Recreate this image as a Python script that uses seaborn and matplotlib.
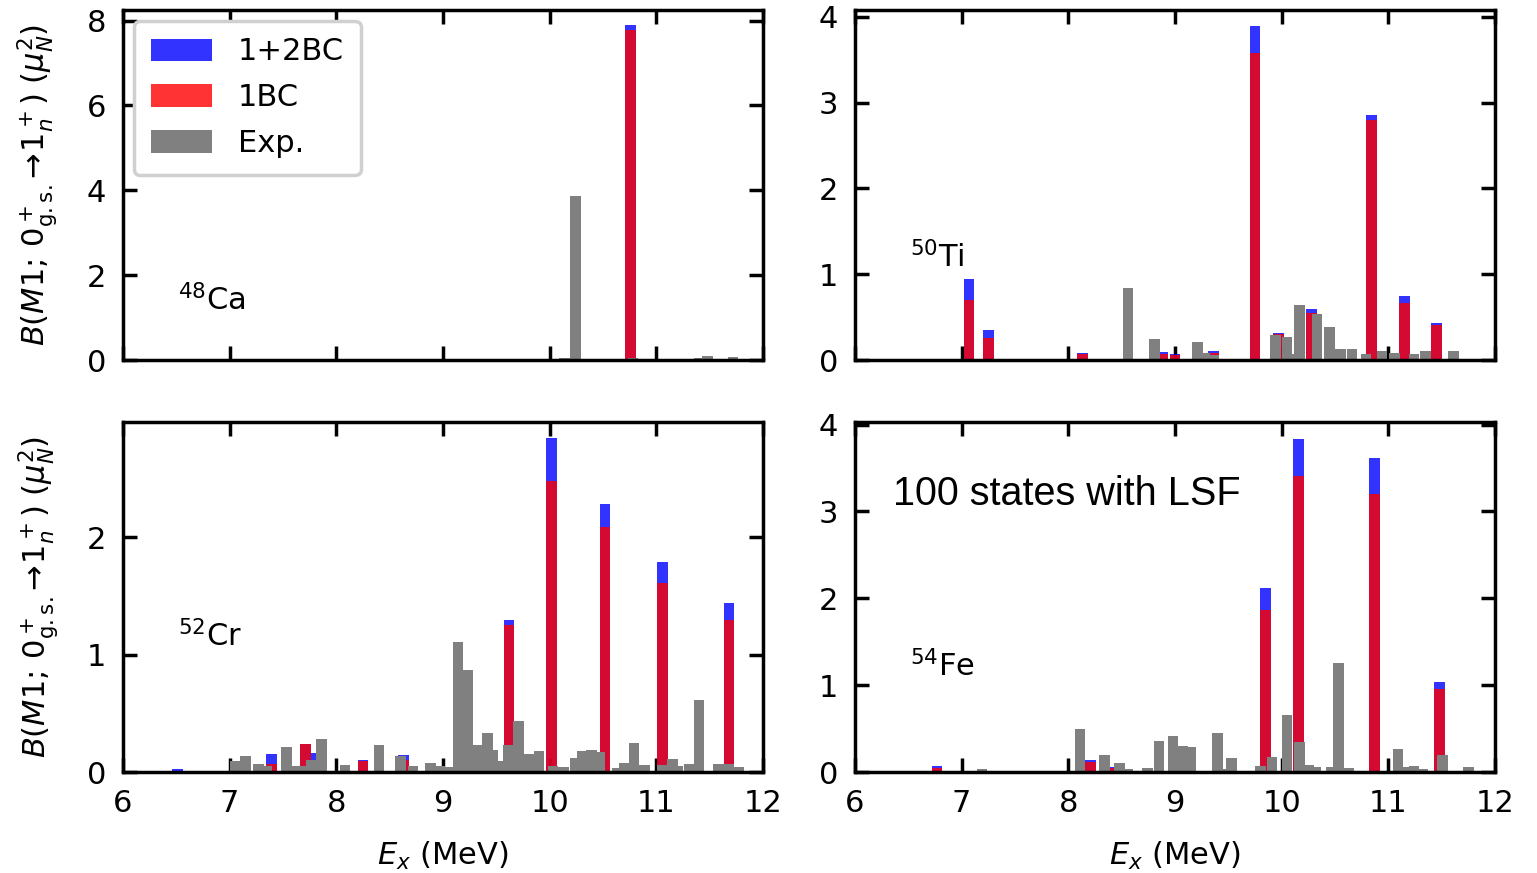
import numpy as np
import matplotlib
matplotlib.use("Agg")
import matplotlib.pyplot as plt
import seaborn as sns
from matplotlib.patches import Patch

# ---------------- data ----------------
# 48Ca
ca_th_E = [10.76]
ca_1bc = [7.79]
ca_12bc = [7.90]
ca_exp_E = [9.40, 9.88, 9.96, 10.14, 10.24, 10.34, 10.78, 11.40, 11.48, 11.72]
ca_exp_B = [0.015, 0.02, 0.03, 0.05, 3.87, 0.03, 0.05, 0.05, 0.10, 0.06]

# 50Ti
ti_th_E = [7.07, 7.25, 8.13, 8.88, 9.00, 9.36, 9.75, 9.97, 10.28, 10.84, 11.15, 11.45]
ti_1bc = [0.70, 0.26, 0.066, 0.07, 0.06, 0.08, 3.58, 0.30, 0.55, 2.80, 0.66, 0.41]
ti_12bc = [0.95, 0.35, 0.085, 0.09, 0.074, 0.10, 3.89, 0.32, 0.59, 2.86, 0.75, 0.435]
ti_exp_E = [8.56, 8.81, 9.21, 9.28, 9.36, 9.94, 10.05, 10.12, 10.17, 10.33, 10.45,
            10.55, 10.66, 10.79, 10.94, 11.06, 11.24, 11.35, 11.61]
ti_exp_B = [0.84, 0.25, 0.21, 0.085, 0.06, 0.29, 0.27, 0.07, 0.64, 0.54, 0.39,
            0.13, 0.13, 0.07, 0.10, 0.08, 0.07, 0.11, 0.10]

# 52Cr
cr_th_E = [6.51, 7.39, 7.71, 7.80, 8.25, 8.63, 9.62, 10.02, 10.52, 11.06, 11.68]
cr_1bc = [0.0, 0.065, 0.235, 0.05, 0.09, 0.10, 1.255, 2.48, 2.09, 1.61, 1.29]
cr_12bc = [0.025, 0.155, 0.24, 0.165, 0.10, 0.145, 1.295, 2.845, 2.28, 1.785, 1.44]
cr_exp_E = [7.05, 7.15, 7.27, 7.35, 7.53, 7.63, 7.69, 7.77, 7.86, 8.08, 8.40, 8.60,
            8.72, 8.88, 8.97, 9.06, 9.14, 9.23, 9.32, 9.42, 9.47, 9.52, 9.61, 9.71,
            9.80, 9.90, 10.03, 10.13, 10.24, 10.31, 10.39, 10.47, 10.63, 10.70, 10.79,
            10.89, 11.06, 11.15, 11.20, 11.31, 11.40, 11.58, 11.68, 11.77]
cr_exp_B = [0.09, 0.14, 0.07, 0.05, 0.21, 0.05, 0.05, 0.10, 0.28, 0.06, 0.23, 0.14,
            0.05, 0.08, 0.05, 0.04, 1.11, 0.87, 0.23, 0.33, 0.19, 0.09, 0.23, 0.43,
            0.15, 0.18, 0.05, 0.045, 0.12, 0.18, 0.19, 0.17, 0.03, 0.08, 0.25,
            0.06, 0.06, 0.11, 0.05, 0.07, 0.61, 0.07, 0.07, 0.045]

# 54Fe
fe_th_E = [6.77, 8.21, 8.41, 9.85, 10.16, 10.87, 11.48]
fe_1bc = [0.046, 0.11, 0.05, 1.86, 3.41, 3.20, 0.95]
fe_12bc = [0.065, 0.14, 0.06, 2.12, 3.84, 3.61, 1.04]
fe_exp_E = [6.05, 7.19, 8.11, 8.34, 8.48, 8.56, 8.74, 8.85, 8.98, 9.07, 9.15, 9.40,
            9.47, 9.53, 9.80, 9.91, 10.05, 10.17, 10.25, 10.32, 10.47, 10.535, 10.63,
            11.09, 11.18, 11.24, 11.32, 11.51, 11.75]
fe_exp_B = [0.01, 0.04, 0.49, 0.195, 0.10, 0.04, 0.05, 0.36, 0.42, 0.30, 0.29, 0.445,
            0.04, 0.157, 0.07, 0.17, 0.655, 0.35, 0.08, 0.06, 0.06, 1.25, 0.05,
            0.265, 0.06, 0.07, 0.03, 0.20, 0.06]

labels = ["1+2BC", "1BC", "Exp."]

# ---------------- style ----------------
sns.set_theme(style="ticks")
plt.rcParams["font.family"] = ["DejaVu Sans"]
plt.rcParams["mathtext.fontset"] = "dejavusans"
plt.rcParams["text.color"] = "black"
plt.rcParams["axes.labelcolor"] = "black"
plt.rcParams["xtick.color"] = "black"
plt.rcParams["ytick.color"] = "black"

BLUE = (0.0, 0.0, 1.0)
RED = (1.0, 0.0, 0.0)
GRAY = "#808080"
BAR_W = 0.1
FS = 22


def bars(ax, E, B, color, alpha):
    E = np.asarray(E, float)
    u = np.unique(E)
    nw = np.min(np.diff(u)) if len(u) > 1 else 1.0
    sns.barplot(x=E, y=np.asarray(B, float), native_scale=True, orient="x",
                width=BAR_W / nw, color=color, alpha=alpha, saturation=1,
                errorbar=None, linewidth=0, ax=ax)


fig = plt.figure(figsize=(15.37, 8.73), dpi=100)
W = 640 / 1537
H = 350 / 873
pos = {
    "tl": [123 / 1537, 1 - 360 / 873, W, H],
    "tr": [855 / 1537, 1 - 360 / 873, W, H],
    "bl": [123 / 1537, 1 - 772 / 873, W, H],
    "br": [855 / 1537, 1 - 772 / 873, W, H],
}

panels = [
    ("tl", ca_th_E, ca_1bc, ca_12bc, ca_exp_E, ca_exp_B, r"$^{48}$Ca", 0.17, 8.25, [0, 2, 4, 6, 8]),
    ("tr", ti_th_E, ti_1bc, ti_12bc, ti_exp_E, ti_exp_B, r"$^{50}$Ti", 0.294, 4.08, [0, 1, 2, 3, 4]),
    ("bl", cr_th_E, cr_1bc, cr_12bc, cr_exp_E, cr_exp_B, r"$^{52}$Cr", 0.389, 2.98, [0, 1, 2]),
    ("br", fe_th_E, fe_1bc, fe_12bc, fe_exp_E, fe_exp_B, r"$^{54}$Fe", 0.303, 4.03, [0, 1, 2, 3, 4]),
]

ylab = r"$B(M1;\,0^+_{\mathrm{g.s.}}\!\rightarrow\!1^+_n)$ $(\mu_N^2)$"

for key, thE, b1, b12, exE, exB, name, ny, ytop, yt in panels:
    ax = fig.add_axes(pos[key])
    bars(ax, thE, b12, BLUE, 0.8)
    bars(ax, thE, b1, RED, 0.8)
    bars(ax, exE, exB, GRAY, 1.0)
    ax.set_xlim(6, 12)
    ax.set_ylim(0, ytop)
    ax.set_xticks(range(6, 13))
    ax.set_yticks(yt)
    ax.tick_params(direction="in", length=10, width=2.5, top=True, right=True,
                   labelsize=FS, pad=12, color="black", labelcolor="black")
    for s in ax.spines.values():
        s.set_linewidth(2.5)
        s.set_color("black")
    ax.set_xlabel("")
    ax.set_ylabel("")
    if key in ("tl", "tr"):
        ax.set_xticklabels([])
    else:
        ax.set_xticklabels([str(v) for v in range(6, 13)])
        ax.set_xlabel(r"$E_x$ (MeV)", fontsize=FS, labelpad=16)
    if key in ("tl", "bl"):
        ax.set_ylabel(ylab, fontsize=FS, labelpad=19)
    ax.text(0.086, ny, name, transform=ax.transAxes, fontsize=FS, va="center", ha="left")
    if key == "br":
        ax.text(0.059, 0.794, "100 states with LSF", transform=ax.transAxes,
                fontsize=28.5, va="center", ha="left", family=["Liberation Sans"])
    if key == "tl":
        handles = [Patch(facecolor=BLUE, alpha=0.8, linewidth=0),
                   Patch(facecolor=RED, alpha=0.8, linewidth=0),
                   Patch(facecolor=GRAY, linewidth=0)]
        leg = ax.legend(handles, labels, loc="upper left", fontsize=FS,
                        handlelength=2.0, handleheight=0.75, handletextpad=0.85,
                        labelspacing=0.55, borderaxespad=0.35, borderpad=0.55,
                        frameon=True, fancybox=True, framealpha=1)
        leg.get_frame().set_edgecolor("#d0d0d0")
        leg.get_frame().set_linewidth(2.5)

fig.savefig("out.png", dpi=100)
